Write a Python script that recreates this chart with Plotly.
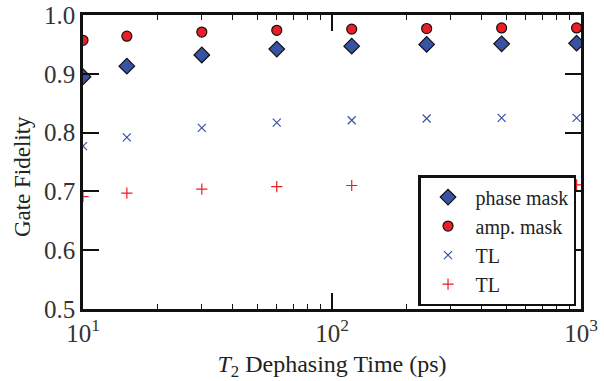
import plotly.graph_objects as go

t2 = [10, 15, 30, 60, 120, 240, 480, 960]
phase_mask = [0.895, 0.913, 0.932, 0.942, 0.947, 0.950, 0.951, 0.952]
amp_mask = [0.957, 0.964, 0.971, 0.974, 0.976, 0.977, 0.978, 0.978]
tl_blue = [0.777, 0.792, 0.808, 0.817, 0.821, 0.824, 0.825, 0.825]
tl_red = [0.691, 0.697, 0.704, 0.708, 0.710, 0.711, 0.711, 0.711]

x_tickvals = [10, 100, 1000]
x_ticktext = ["10<sup>1</sup>", "10<sup>2</sup>", "10<sup>3</sup>"]
x_minor_tickvals = [20, 30, 40, 50, 60, 70, 80, 90, 200, 300, 400, 500, 600, 700, 800, 900]
y_tickvals = [0.5, 0.6, 0.7, 0.8, 0.9, 1.0]
y_ticktext = ["0.5", "0.6", "0.7", "0.8", "0.9", "1.0"]

RED = "#ee1c25"
BLUE = "#3953a4"
FONT = "Liberation Serif"

fig = go.Figure()
fig.add_trace(go.Scatter(x=t2, y=phase_mask, mode="markers", name="phase mask",
                         marker=dict(symbol="diamond", size=12, color=BLUE,
                                     line=dict(color="#111", width=1.2))))
fig.add_trace(go.Scatter(x=t2, y=amp_mask, mode="markers", name="amp. mask",
                         marker=dict(symbol="circle", size=10, color=RED,
                                     line=dict(color="#111", width=1.2))))
fig.add_trace(go.Scatter(x=t2, y=tl_blue, mode="markers", name="TL",
                         marker=dict(symbol="x-thin", size=8, color=BLUE,
                                     line=dict(color=BLUE, width=1.2))))
fig.add_trace(go.Scatter(x=t2, y=tl_red, mode="markers", name="TL",
                         marker=dict(symbol="cross-thin", size=8, color=RED,
                                     line=dict(color=RED, width=1.2))))

axis_common = dict(showline=True, linecolor="#111", linewidth=2.5, mirror="allticks",
                   ticks="inside", tickcolor="#111", tickwidth=1.5, ticklen=16,
                   showgrid=False, zeroline=False, automargin=False,
                   tickfont=dict(family=FONT, size=25, color="#333"))

fig.update_xaxes(type="log", range=[1, 3], tickvals=x_tickvals, ticktext=x_ticktext,
                 minor=dict(tickvals=x_minor_tickvals, ticks="inside", ticklen=5,
                            tickcolor="#111", tickwidth=1.2, showgrid=False),
                 title=dict(text="<i>T</i><sub>2</sub> Dephasing Time (ps)",
                            font=dict(family=FONT, size=24, color="#222"), standoff=10),
                 **axis_common)
fig.update_yaxes(range=[0.5, 1.0], tickvals=y_tickvals, ticktext=y_ticktext,
                 **axis_common)

fig.add_annotation(text="Gate Fidelity", textangle=-90, showarrow=False,
                   xref="paper", yref="paper", x=-0.1225, y=0.452,
                   xanchor="center", yanchor="middle",
                   font=dict(family=FONT, size=23, color="#222"))

fig.update_layout(
    width=604, height=381,
    margin=dict(l=83, r=23, t=15, b=72),
    plot_bgcolor="white", paper_bgcolor="white",
    legend=dict(x=0.99, y=0.01, xanchor="right", yanchor="bottom",
                bordercolor="#111", borderwidth=2.5, bgcolor="white",
                font=dict(family=FONT, size=20, color="#222"),
                tracegroupgap=0, itemsizing="trace", itemwidth=45),
)

fig.write_html("out.html", config={"displayModeBar": False},
               post_script="document.body.style.margin='0';")
